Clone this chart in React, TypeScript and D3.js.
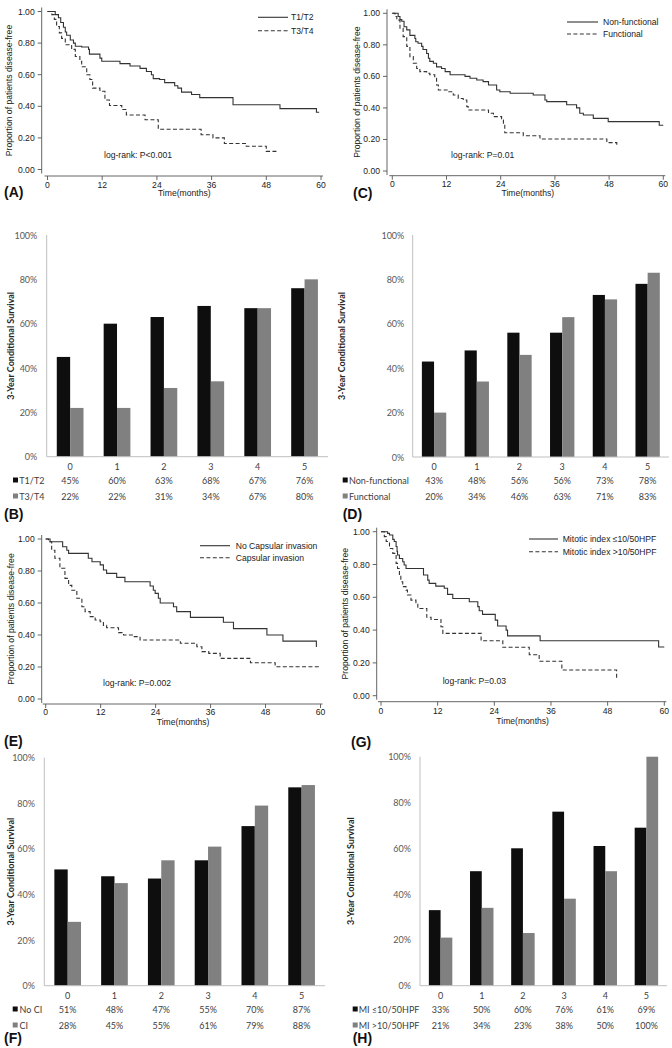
import React from 'react';
import * as d3 from 'd3';

type Pt = [number, number];

// ---------- Kaplan–Meier data (month, proportion disease-free) ----------
const kmYTicks = [0, 0.2, 0.4, 0.6, 0.8, 1.0];
const kmXTicks = [0, 12, 24, 36, 48, 60];

const aNames = ['T1/T2', 'T3/T4'];
const aSolid: Pt[] = [[0,1],[1.7,0.98],[2.4,0.96],[2.9,0.93],[3.5,0.9],[3.9,0.87],[4.2,0.85],[5.0,0.82],[5.7,0.8],[6.1,0.78],[7.5,0.775],[9.0,0.76],[9.2,0.73],[11.5,0.705],[11.9,0.685],[15.9,0.67],[18.1,0.655],[20.3,0.64],[21.7,0.62],[22.8,0.6],[23.2,0.575],[24.6,0.57],[25.7,0.55],[27.9,0.53],[28.6,0.515],[29.4,0.49],[31.6,0.475],[33.4,0.455],[40.7,0.41],[51.0,0.385],[59.0,0.362],[59.6,0.362]];
const aDash: Pt[] = [[0,1],[0.95,0.98],[1.5,0.95],[2.0,0.905],[2.6,0.865],[3.1,0.83],[3.9,0.79],[5.3,0.76],[6.1,0.715],[7.1,0.685],[7.5,0.65],[8.6,0.6],[9.3,0.57],[9.9,0.515],[11.5,0.495],[12.6,0.44],[13.6,0.405],[16.3,0.38],[17.3,0.345],[21.4,0.315],[24.3,0.255],[33.7,0.22],[36.3,0.2],[38.8,0.165],[43.6,0.147],[48.0,0.115],[50.1,0.1]];

const cNames = ['Non-functional', 'Functional'];
const cSolid: Pt[] = [[0,1],[1.3,0.98],[1.7,0.96],[2.1,0.95],[2.6,0.915],[3.2,0.895],[3.9,0.86],[5.0,0.84],[5.2,0.82],[5.7,0.81],[6.5,0.79],[6.8,0.77],[7.6,0.745],[8.0,0.715],[8.3,0.695],[9.1,0.683],[9.8,0.66],[10.9,0.65],[11.7,0.63],[12.8,0.61],[16.1,0.6],[17.2,0.588],[18.7,0.577],[20.1,0.567],[21.3,0.545],[23.1,0.514],[23.8,0.503],[26.1,0.493],[31.2,0.482],[33.8,0.45],[34.2,0.44],[38.6,0.42],[40.8,0.4],[41.5,0.366],[42.3,0.355],[44.5,0.334],[47.8,0.313],[59.1,0.29],[60,0.29]];
const cDash: Pt[] = [[0,1],[0.6,0.98],[1.0,0.957],[1.7,0.905],[2.4,0.852],[3.2,0.79],[3.9,0.725],[4.65,0.683],[5.4,0.65],[6.1,0.63],[7.6,0.62],[8.3,0.61],[9.4,0.588],[9.8,0.545],[10.2,0.514],[12.4,0.503],[13.5,0.482],[14.6,0.46],[15.7,0.45],[16.5,0.408],[16.8,0.387],[21.3,0.366],[22.4,0.345],[24.2,0.323],[24.6,0.29],[24.9,0.243],[29.0,0.224],[32.7,0.203],[47.5,0.18],[49.7,0.165],[50.0,0.165]];

const eNames = ['No Capsular invasion', 'Capsular invasion'];
const eSolid: Pt[] = [[0,1],[0.95,0.983],[3.7,0.952],[4.6,0.93],[5.0,0.91],[9.3,0.88],[10.1,0.858],[11.9,0.838],[12.6,0.806],[13.3,0.785],[15.5,0.76],[17.3,0.733],[22.8,0.706],[23.5,0.68],[23.9,0.66],[24.6,0.63],[25.0,0.6],[27.9,0.577],[28.6,0.546],[31.6,0.51],[38.8,0.48],[41.0,0.44],[48.3,0.4],[51.8,0.362],[59.1,0.325]];
const eDash: Pt[] = [[0,1],[0.6,0.983],[1.3,0.93],[2.0,0.88],[3.1,0.817],[4.2,0.754],[5.0,0.71],[5.7,0.68],[6.8,0.63],[7.9,0.577],[8.6,0.546],[9.7,0.515],[10.8,0.494],[11.9,0.483],[12.6,0.46],[13.3,0.445],[15.9,0.415],[17.0,0.4],[19.2,0.39],[20.6,0.369],[29.4,0.348],[33.0,0.327],[34.1,0.296],[35.6,0.285],[38.1,0.254],[44.7,0.227],[50.1,0.202],[60,0.202]];

const gNames = ['Mitotic index \u226410/50HPF', 'Mitotic index >10/50HPF'];
const gSolid: Pt[] = [[0,1],[1.4,0.99],[1.8,0.98],[2.5,0.953],[2.8,0.94],[3.2,0.91],[3.4,0.88],[3.5,0.858],[3.9,0.837],[4.6,0.817],[4.9,0.797],[5.3,0.776],[9.0,0.736],[9.9,0.705],[10.2,0.685],[11.6,0.668],[13.4,0.655],[14.1,0.618],[15.2,0.593],[18.7,0.573],[20.5,0.543],[20.8,0.518],[21.5,0.496],[24.2,0.461],[24.7,0.425],[26.5,0.4],[26.8,0.365],[33.7,0.335],[58.8,0.297],[60,0.297]];
const gDash: Pt[] = [[0,1],[0.7,0.97],[1.1,0.94],[1.8,0.898],[2.5,0.868],[3.2,0.807],[3.5,0.776],[3.9,0.736],[4.2,0.695],[4.6,0.665],[5.3,0.644],[5.6,0.614],[6.35,0.583],[7.4,0.563],[7.8,0.532],[9.7,0.478],[10.6,0.465],[12.7,0.42],[13.1,0.38],[21.2,0.335],[25.8,0.295],[31.4,0.25],[33.5,0.21],[38.3,0.157],[49.9,0.095]];

// ---------- Conditional survival bar data ----------
const barYTicks = [0, 0.2, 0.4, 0.6, 0.8, 1.0];
const barCategories = ['0', '1', '2', '3', '4', '5'];

const bNames = ['T1/T2', 'T3/T4'];
const bBlack = [45, 60, 63, 68, 67, 76];
const bGray = [22, 22, 31, 34, 67, 80];

const dNames = ['Non-functional', 'Functional'];
const dBlack = [43, 48, 56, 56, 73, 78];
const dGray = [20, 34, 46, 63, 71, 83];

const fNames = ['No CI', 'CI'];
const fBlack = [51, 48, 47, 55, 70, 87];
const fGray = [28, 45, 55, 61, 79, 88];

const hNames = ['MI \u226410/50HPF', 'MI >10/50HPF'];
const hBlack = [33, 50, 60, 76, 61, 69];
const hGray = [21, 34, 23, 38, 50, 100];

// ---------- styles ----------
const KM_FONT = '"Liberation Sans", Arial, Helvetica, sans-serif';
const BAR_FONT = 'Lato, "Open Sans", sans-serif';
const KM_FS = 8.6;
const BAR_FS = 9;
const DASH = '4,2.4';
const BLACK = '#0e0e0e';
const GRAY = '#808080';

type KMCfg = {
  xPx: [number, number]; yPx: [number, number]; axisX: number; axisY: number;
  tickLabelY: number; xTitleY: number; yTitleX: number;
  legend: { x1: number; x2: number; tx: number; y: number; dy: number };
  logrank: { x: number; y: number; text: string };
  label: { x: number; y: number; text: string };
};

function KMPanel({ cfg, names, solid, dash }: { cfg: KMCfg; names: string[]; solid: Pt[]; dash: Pt[] }) {
  const x = d3.scaleLinear().domain([0, 60]).range(cfg.xPx);
  const y = d3.scaleLinear().domain([0, 1]).range(cfg.yPx);
  const line = d3.line<Pt>().x(d => x(d[0])).y(d => y(d[1])).curve(d3.curveStepAfter);
  const fmt = d3.format('.2f');
  const axisCol = '#555';
  const txtCol = '#222';
  const midY = (y(0) + y(1)) / 2;
  const midX = (x(0) + x(60)) / 2;
  return (
    <g fontFamily={KM_FONT} fontSize={KM_FS} fill={txtCol}>
      {/* y axis */}
      <line x1={cfg.axisX} x2={cfg.axisX} y1={y(1) - 4} y2={y(0) + 4} stroke={axisCol} strokeWidth={0.9} />
      {kmYTicks.map(t => (
        <g key={'y' + t}>
          <line x1={cfg.axisX - 4} x2={cfg.axisX} y1={y(t)} y2={y(t)} stroke={axisCol} strokeWidth={0.9} />
          <text x={cfg.axisX - 7} y={y(t)} textAnchor="end" dominantBaseline="central">{fmt(t)}</text>
        </g>
      ))}
      {/* x axis */}
      <line x1={x(0) - 3} x2={x(60) + 2} y1={cfg.axisY} y2={cfg.axisY} stroke={axisCol} strokeWidth={0.9} />
      {kmXTicks.map(t => (
        <g key={'x' + t}>
          <line x1={x(t)} x2={x(t)} y1={cfg.axisY} y2={cfg.axisY + 4} stroke={axisCol} strokeWidth={0.9} />
          <text x={x(t)} y={cfg.tickLabelY} textAnchor="middle" dominantBaseline="central">{t}</text>
        </g>
      ))}
      <text x={midX} y={cfg.xTitleY} textAnchor="middle" dominantBaseline="central">Time(months)</text>
      <text transform={`translate(${cfg.yTitleX},${midY}) rotate(-90)`} textAnchor="middle" dominantBaseline="central">Proportion of patients disease-free</text>
      {/* curves */}
      <path d={line(solid) || ''} fill="none" stroke="#333" strokeWidth={1.1} />
      <path d={line(dash) || ''} fill="none" stroke="#333" strokeWidth={1.1} strokeDasharray={DASH} />
      {/* legend */}
      <line x1={cfg.legend.x1} x2={cfg.legend.x2} y1={cfg.legend.y} y2={cfg.legend.y} stroke="#333" strokeWidth={1.1} />
      <text x={cfg.legend.tx} y={cfg.legend.y} dominantBaseline="central">{names[0]}</text>
      <line x1={cfg.legend.x1} x2={cfg.legend.x2} y1={cfg.legend.y + cfg.legend.dy} y2={cfg.legend.y + cfg.legend.dy} stroke="#333" strokeWidth={1.1} strokeDasharray={DASH} />
      <text x={cfg.legend.tx} y={cfg.legend.y + cfg.legend.dy} dominantBaseline="central">{names[1]}</text>
      <text x={cfg.logrank.x} y={cfg.logrank.y} dominantBaseline="central">{cfg.logrank.text}</text>
      <text x={cfg.label.x} y={cfg.label.y} dominantBaseline="central" fontSize={14} fontWeight="bold" fill="#111">{cfg.label.text}</text>
    </g>
  );
}

type BarCfg = {
  x0: number; x1: number; yTop: number; yBot: number; tickRight: number;
  catY: number; rowY: [number, number]; legSq: number; legTx: number;
  yTitleX: number; label: { x: number; y: number; text: string };
};

function BarPanel({ cfg, names, black, gray }: { cfg: BarCfg; names: string[]; black: number[]; gray: number[] }) {
  const x = d3.scaleBand<string>().domain(barCategories).range([cfg.x0, cfg.x1]).paddingInner(0.43).paddingOuter(0.215);
  const sub = d3.scaleBand<string>().domain(['a', 'b']).range([0, x.bandwidth()]);
  const y = d3.scaleLinear().domain([0, 1]).range([cfg.yBot, cfg.yTop]);
  const pct = d3.format('.0%');
  const tickCol = '#595959';
  const txt = '#404040';
  const center = (c: string) => (x(c) as number) + x.bandwidth() / 2;
  return (
    <g fontFamily={BAR_FONT} fontSize={BAR_FS}>
      {barYTicks.map(t => (
        <text key={t} x={cfg.tickRight} y={y(t)} textAnchor="end" dominantBaseline="central" fill={tickCol}>{pct(t)}</text>
      ))}
      {barCategories.map((c, i) => (
        <g key={c}>
          <rect x={(x(c) as number) + (sub('a') as number)} y={y(black[i] / 100)} width={sub.bandwidth()} height={cfg.yBot - y(black[i] / 100)} fill={BLACK} />
          <rect x={(x(c) as number) + (sub('b') as number)} y={y(gray[i] / 100)} width={sub.bandwidth()} height={cfg.yBot - y(gray[i] / 100)} fill={GRAY} />
          <text x={center(c)} y={cfg.catY} textAnchor="middle" dominantBaseline="central" fill={txt}>{c}</text>
          <text x={center(c)} y={cfg.rowY[0]} textAnchor="middle" dominantBaseline="central" fill={txt}>{black[i] + '%'}</text>
          <text x={center(c)} y={cfg.rowY[1]} textAnchor="middle" dominantBaseline="central" fill={txt}>{gray[i] + '%'}</text>
        </g>
      ))}
      <line x1={cfg.x0} x2={cfg.x0} y1={cfg.yTop} y2={cfg.yBot} stroke="#bfbfbf" strokeWidth={1} />
      <line x1={cfg.x0} x2={cfg.x1} y1={cfg.yBot} y2={cfg.yBot} stroke="#bfbfbf" strokeWidth={1} />
      <rect x={cfg.legSq} y={cfg.rowY[0] - 2.5} width={5} height={5} fill={BLACK} />
      <text x={cfg.legTx} y={cfg.rowY[0]} dominantBaseline="central" fill={txt}>{names[0]}</text>
      <rect x={cfg.legSq} y={cfg.rowY[1] - 2.5} width={5} height={5} fill={GRAY} />
      <text x={cfg.legTx} y={cfg.rowY[1]} dominantBaseline="central" fill={txt}>{names[1]}</text>
      <text transform={`translate(${cfg.yTitleX},${(cfg.yTop + cfg.yBot) / 2}) rotate(-90)`} textAnchor="middle" dominantBaseline="central" fontWeight="bold" fill="#262626">3-Year Conditional Survival</text>
      <text x={cfg.label.x} y={cfg.label.y} dominantBaseline="central" fontSize={14} fontWeight="bold" fontFamily={KM_FONT} fill="#111">{cfg.label.text}</text>
    </g>
  );
}

const cfgA: KMCfg = { xPx: [47.5, 321], yPx: [169.5, 11.5], axisX: 41.7, axisY: 176, tickLabelY: 184.5, xTitleY: 193, yTitleX: 9, legend: { x1: 258, x2: 288, tx: 291, y: 17.3, dy: 13.4 }, logrank: { x: 104, y: 155, text: 'log-rank: P<0.001' }, label: { x: 4, y: 192, text: '(A)' } };
const cfgC: KMCfg = { xPx: [392.3, 663.3], yPx: [171, 13.3], axisX: 387, axisY: 175.7, tickLabelY: 184.3, xTitleY: 193, yTitleX: 356.5, legend: { x1: 567, x2: 598, tx: 603, y: 22, dy: 12 }, logrank: { x: 451, y: 155, text: 'log-rank: P=0.01' }, label: { x: 353, y: 193, text: '(C)' } };
const cfgE: KMCfg = { xPx: [45.7, 320.5], yPx: [699, 539], axisX: 41.7, axisY: 704, tickLabelY: 712.3, xTitleY: 722, yTitleX: 11, legend: { x1: 200, x2: 230, tx: 235.7, y: 545.7, dy: 12 }, logrank: { x: 103, y: 683, text: 'log-rank: P=0.002' }, label: { x: 4, y: 741, text: '(E)' } };
const cfgG: KMCfg = { xPx: [381, 664.3], yPx: [695.7, 531.7], axisX: 376.7, axisY: 701.7, tickLabelY: 710.7, xTitleY: 721, yTitleX: 344.5, legend: { x1: 529, x2: 558, tx: 562.7, y: 539, dy: 12.7 }, logrank: { x: 442.7, y: 681, text: 'log-rank: P=0.03' }, label: { x: 351, y: 742, text: '(G)' } };

const cfgB: BarCfg = { x0: 46.7, x1: 328, yTop: 235, yBot: 456.7, tickRight: 37.3, catY: 466.7, rowY: [480, 496], legSq: 13, legTx: 19.3, yTitleX: 10, label: { x: 4, y: 514, text: '(B)' } };
const cfgD: BarCfg = { x0: 412.7, x1: 669, yTop: 235, yBot: 457, tickRight: 404.3, catY: 466.7, rowY: [480, 496], legSq: 342.7, legTx: 349, yTitleX: 341, label: { x: 342.7, y: 514, text: '(D)' } };
const cfgF: BarCfg = { x0: 44.3, x1: 325, yTop: 757.7, yBot: 985.7, tickRight: 35, catY: 995, rowY: [1009, 1025], legSq: 12.7, legTx: 19.5, yTitleX: 10, label: { x: 4, y: 1038, text: '(F)' } };
const cfgH: BarCfg = { x0: 420, x1: 667, yTop: 756.7, yBot: 985.7, tickRight: 411, catY: 995, rowY: [1009, 1025], legSq: 352.7, legTx: 358.7, yTitleX: 350, label: { x: 352.7, y: 1038, text: '(H)' } };

export default function App() {
  return (
    <svg width={672} height={1048} viewBox="0 0 672 1048" style={{ position: 'absolute', left: 0, top: 0, background: '#fff' }}>
      <rect x={0} y={0} width={672} height={1048} fill="#fff" />
      <KMPanel cfg={cfgA} names={aNames} solid={aSolid} dash={aDash} />
      <KMPanel cfg={cfgC} names={cNames} solid={cSolid} dash={cDash} />
      <BarPanel cfg={cfgB} names={bNames} black={bBlack} gray={bGray} />
      <BarPanel cfg={cfgD} names={dNames} black={dBlack} gray={dGray} />
      <KMPanel cfg={cfgE} names={eNames} solid={eSolid} dash={eDash} />
      <KMPanel cfg={cfgG} names={gNames} solid={gSolid} dash={gDash} />
      <BarPanel cfg={cfgF} names={fNames} black={fBlack} gray={fGray} />
      <BarPanel cfg={cfgH} names={hNames} black={hBlack} gray={hGray} />
    </svg>
  );
}
